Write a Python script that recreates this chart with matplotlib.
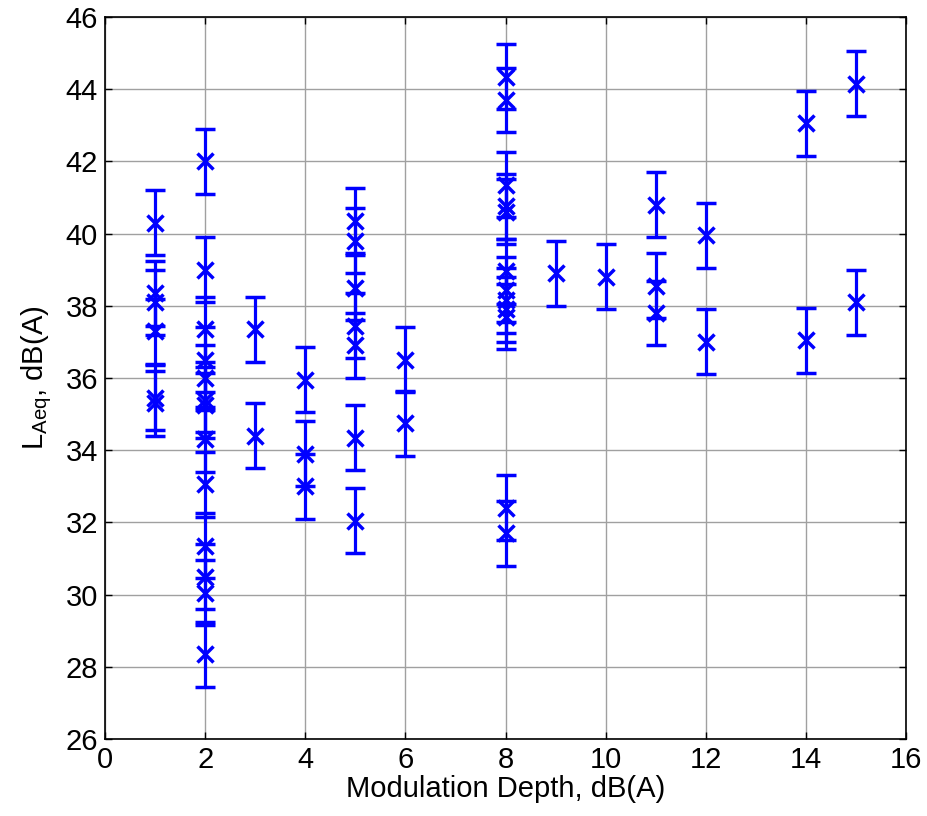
import matplotlib
matplotlib.use("Agg")
import matplotlib.pyplot as plt
import numpy as np

plt.rcParams['font.family'] = ['Liberation Sans', 'DejaVu Sans']
plt.rcParams['mathtext.default'] = 'regular'

# Modulation depth (x) and LAeq (y) values, with error half-widths
depth = [1, 1, 1, 1, 1, 1,
         2, 2, 2, 2, 2, 2, 2, 2, 2, 2, 2, 2, 2,
         3, 3,
         4, 4, 4,
         5, 5, 5, 5, 5, 5, 5,
         6, 6,
         8, 8, 8, 8, 8, 8, 8, 8, 8, 8, 8, 8,
         9, 10,
         11, 11, 11,
         12, 12,
         14, 14,
         15, 15]
laeq = [40.3, 38.35, 38.1, 37.3, 35.45, 35.3,
        42.0, 39.0, 37.35, 36.5, 36.0, 35.4, 35.25, 34.3, 33.05, 31.35, 30.5, 30.05, 28.35,
        37.35, 34.4,
        35.95, 33.9, 33.0,
        40.35, 39.8, 38.5, 37.45, 36.9, 34.35, 32.05,
        36.5, 34.75,
        44.35, 43.7, 41.35, 40.75, 40.6, 38.95, 38.45, 38.15, 37.9, 37.7, 32.4, 31.7,
        38.9, 38.8,
        40.8, 38.55, 37.8,
        39.95, 37.0,
        43.05, 37.05,
        44.15, 38.1]
err = [0.9] * len(laeq)

xticks = [0, 2, 4, 6, 8, 10, 12, 14, 16]
yticks = [26, 28, 30, 32, 34, 36, 38, 40, 42, 44, 46]

fig = plt.figure(figsize=(9.27, 8.16), dpi=100)
ax = fig.add_axes([0.1133, 0.0944, 0.8641, 0.8848])

ax.errorbar(depth, laeq, yerr=err, fmt='x', color='#0000ff', ecolor='#0000ff',
            elinewidth=2.3, capsize=7, capthick=2.3, markersize=11,
            markeredgewidth=2.5, zorder=3)

ax.set_xlim(0, 16)
ax.set_ylim(26, 46)
ax.set_xticks(xticks)
ax.set_yticks(yticks)
ax.grid(True, color='#a0a0a0', linewidth=1.0, linestyle='-')
ax.set_axisbelow(True)
ax.tick_params(direction='in', length=5, width=1, top=True, right=True,
               labelsize=21, colors='black', pad=5)
for s in ax.spines.values():
    s.set_linewidth(1.2)
    s.set_color('black')

ax.set_xlabel('Modulation Depth, dB(A)', fontsize=21, labelpad=1)
ax.set_ylabel(r'L$_{Aeq}$, dB(A)', fontsize=21, labelpad=8)

fig.savefig('out.png', dpi=100)
